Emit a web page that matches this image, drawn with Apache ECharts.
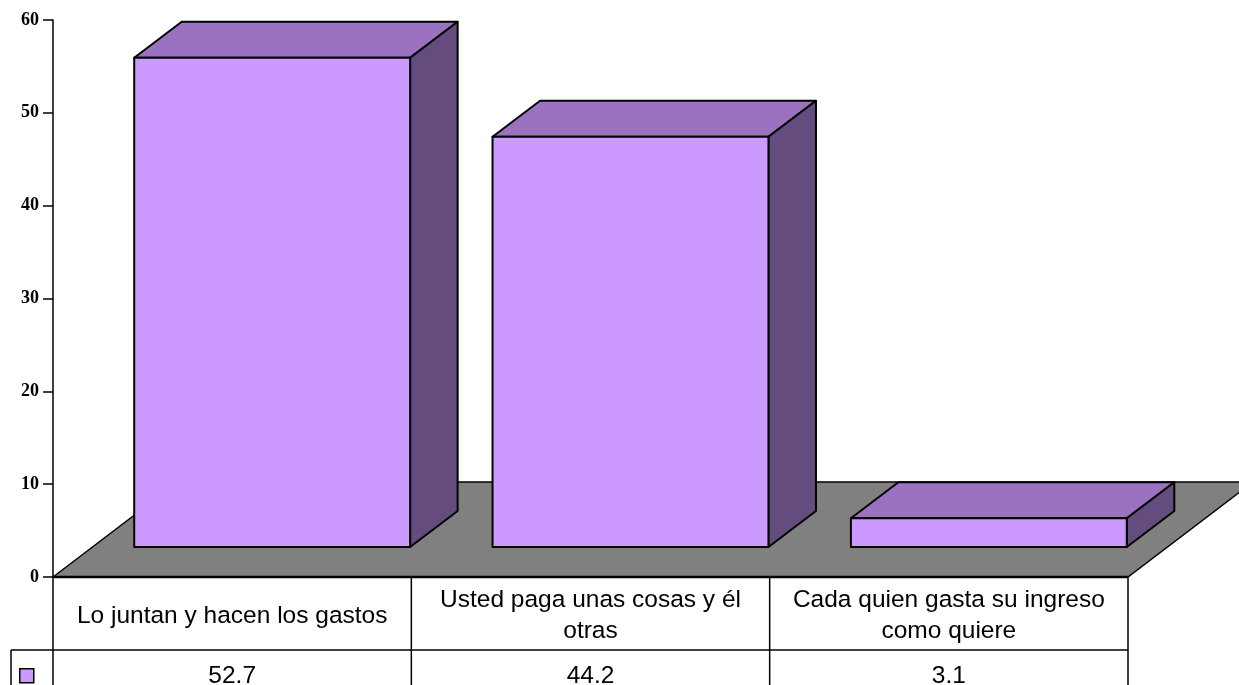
<!DOCTYPE html>
<html><head><meta charset="utf-8">
<style>html,body{margin:0;padding:0;background:#fff;overflow:hidden}#c{width:1239px;height:685px}</style>
<script src="https://cdn.jsdelivr.net/npm/echarts@6/dist/echarts.min.js"></script>
</head><body><div id="c"></div>
<script>
const categories = ['Lo juntan y hacen los gastos', 'Usted paga unas cosas y él\notras', 'Cada quien gasta su ingreso\ncomo quiere'];
const seriesValues = [52.7, 44.2, 3.1];
const valueLabels = ['52.7', '44.2', '3.1'];
const yTicks = {min: 0, max: 60, interval: 10};

const FRONT = '#CC99FF', TOP = '#9B72BF', SIDE = '#654C7F', FLOOR = '#808080', INK = '#000';
const chart = echarts.init(document.getElementById('c'), null, {renderer: 'canvas'});
const lineStyle = {stroke: INK, lineWidth: 2, lineJoin: 'round'};
const poly = (pts, fill) => ({type: 'polygon', shape: {points: pts}, style: Object.assign({fill}, lineStyle)});
const seg = (x1, y1, x2, y2, w) => ({type: 'line', shape: {x1, y1, x2, y2}, style: {stroke: INK, lineWidth: w || 1.5}});

chart.setOption({
  animation: false,
  backgroundColor: '#fff',
  grid: {left: 53, right: 111, top: 20, bottom: 108, containLabel: false, outerBoundsMode: 'none'},
  legend: {
    show: true, left: 19, top: 668, itemWidth: 14, itemHeight: 14, padding: 0,
    formatter: () => '', selectedMode: false,
    data: [{name: 'Serie', icon: 'rect', itemStyle: {color: FRONT, borderColor: INK, borderWidth: 1.5}}]
  },
  xAxis: [{
    type: 'category', data: categories, position: 'bottom',
    axisLine: {show: false}, axisTick: {show: false},
    axisLabel: {
      interval: 0, margin: 39, verticalAlign: 'middle', align: 'center',
      fontFamily: 'Liberation Sans', fontSize: 24.5, lineHeight: 31, color: '#000'
    }
  }, {
    type: 'category', data: valueLabels, position: 'bottom',
    axisLine: {show: false}, axisTick: {show: false},
    axisLabel: {
      interval: 0, margin: 99, verticalAlign: 'middle', align: 'center',
      fontFamily: 'Liberation Sans', fontSize: 24.5, color: '#000'
    }
  }],
  yAxis: {
    type: 'value', min: yTicks.min, max: yTicks.max, interval: yTicks.interval,
    splitLine: {show: false},
    axisLine: {show: true, onZero: false, lineStyle: {color: INK, width: 1.5}},
    axisTick: {show: true, length: 10, lineStyle: {color: INK, width: 1.5}},
    axisLabel: {margin: 14, fontFamily: 'Liberation Serif', fontWeight: 'bold', fontSize: 18, color: '#000'}
  },
  series: [{
    // floor and data-table rules
    type: 'custom', name: 'Marco', z: 1, clip: false, silent: true, legendHoverLink: false,
    data: [[0, 0]],
    renderItem(params, api) {
      const band = api.size([1, 0])[0];
      const o = api.coord([0, 0]);
      const l = o[0] - band / 2, y = o[1], r = l + band * categories.length;
      const dx = 125, dy = 95;
      const kids = [
        {type: 'polygon', shape: {points: [[l, y], [l + dx, y - dy], [r + dx, y - dy], [r, y]]},
         style: {fill: FLOOR, stroke: INK, lineWidth: 1.5}},
        seg(l, y, r, y, 2.5),
        seg(l, y, l, 690),
        seg(11, y + 73, r, y + 73),
        seg(11, y + 73, 11, 690)
      ];
      for (let i = 1; i <= categories.length; i++) kids.push(seg(l + band * i, y, l + band * i, 690));
      return {type: 'group', children: kids};
    }
  }, {
    type: 'custom', name: 'Serie', z: 3, clip: false, silent: true,
    itemStyle: {color: FRONT},
    encode: {x: 0, y: 1},
    data: seriesValues.map((v, i) => [i, v]),
    renderItem(params, api) {
      const band = api.size([1, 0])[0];
      const top = api.coord([api.value(0), api.value(1)]);
      const base = api.coord([api.value(0), 0]);
      const w = band * 0.77, shiftX = 40, shiftY = 30, dx = 47.5, dy = 36;
      const x0 = top[0] - w / 2 + shiftX, x1 = x0 + w;
      const yT = top[1] - shiftY, yB = base[1] - shiftY;
      return {type: 'group', children: [
        poly([[x0, yT], [x0 + dx, yT - dy], [x1 + dx, yT - dy], [x1, yT]], TOP),
        poly([[x1, yB], [x1 + dx, yB - dy], [x1 + dx, yT - dy], [x1, yT]], SIDE),
        poly([[x0, yB], [x1, yB], [x1, yT], [x0, yT]], FRONT)
      ]};
    }
  }]
});
</script></body></html>
